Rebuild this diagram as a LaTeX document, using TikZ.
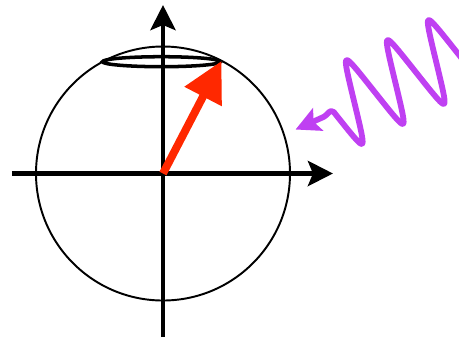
\documentclass[tikz,border=0pt]{standalone}
\usetikzlibrary{arrows.meta}
\definecolor{spinred}{RGB}{255,40,0}
\definecolor{photonpurple}{RGB}{191,64,242}
\begin{document}
\begin{tikzpicture}[
    axis/.style={line width=2.8pt, -{Stealth[length=0.5cm, width=0.5cm, inset=0.1cm]}},
    spin/.style={spinred, line width=4.5pt, -{Triangle[length=0.8cm, width=0.8cm]}},
    photon/.style={photonpurple, line width=3.3pt, line join=round, line cap=round,
        {Stealth[length=0.49cm, width=0.49cm, inset=0.1cm]}-}]
    \useasboundingbox (-3.26,-3.27) rectangle (5.92,3.47);
    \coordinate (O) at (0,0);
    \coordinate (L) at (-3.02,0);
    \coordinate (R) at (3.4,0);
    \coordinate (B) at (0,-3.27);
    \coordinate (T) at (0,3.37);
    \coordinate (S) at (1.17,2.25);
    % sphere and precession cone
    \draw[line width=1.1pt] (O) circle (2.54);
    \draw[line width=2pt] (-0.03,2.236) ellipse (1.18 and 0.1);
    \draw[axis] (L) -- (R);
    \draw[axis] (B) -- (T);
    \draw[spin] (O) -- (S);
    % incoming photon
    \begin{scope}
        \clip (-3.26,-3.27) rectangle (5.92,3.47);
        \draw[photon, shift={(3.415,1.23)}, rotate=26] (-0.84,0.02) -- (-0.22,0)
            .. controls (-0.12,0) and (-0.05,0.1) .. (0,0)
            -- plot[domain=0:3.4, samples=240] (\x, {-0.82*asin(0.9*sin(394.7*\x))/64.16});
    \end{scope}
\end{tikzpicture}
\end{document}
